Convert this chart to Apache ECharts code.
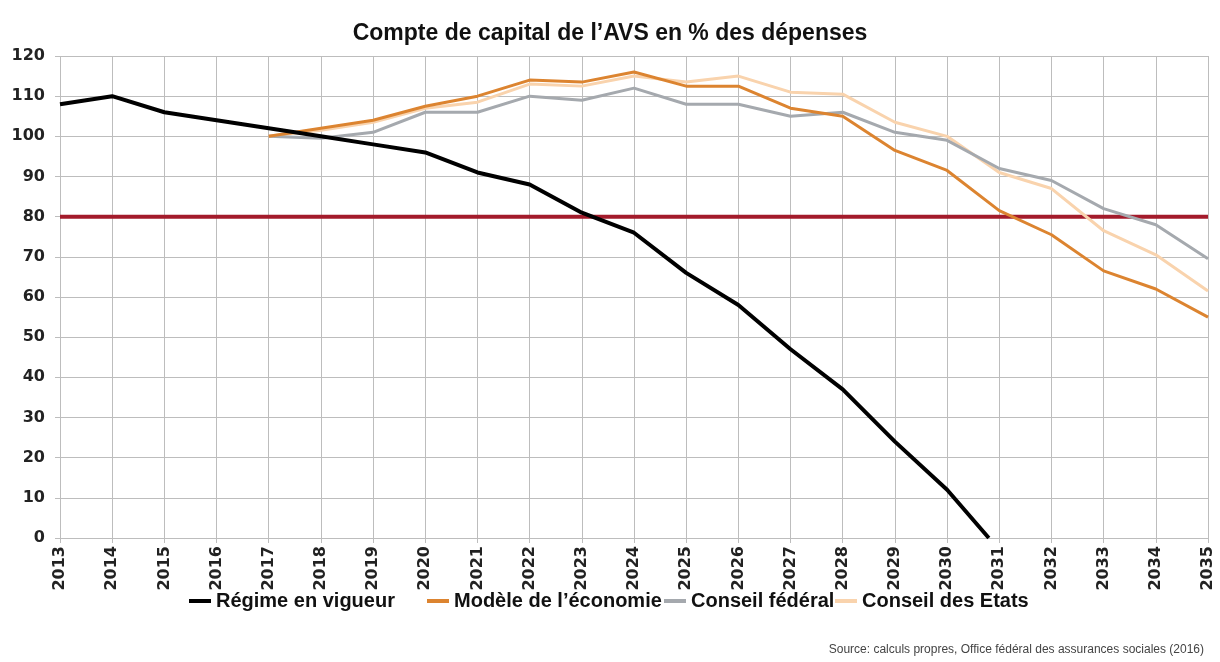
<!DOCTYPE html>
<html>
<head>
<meta charset="utf-8">
<title>Compte de capital de l'AVS</title>
<script src="https://cdn.jsdelivr.net/npm/echarts@6/dist/echarts.min.js"></script>
<style>
    html, body { margin: 0; padding: 0; background: #fff; }
    #chart { width: 1220px; height: 662px; }
</style>
</head>
<body>
<div id="chart"></div>
<script>
// years shown on the x axis
const firstYear = 2013;
const lastYear = 2035;

// Régime en vigueur, 2013-2030, then the point where the fund hits zero
const regimeYears = [2013, 2014, 2015, 2016, 2017, 2018, 2019, 2020, 2021, 2022,
    2023, 2024, 2025, 2026, 2027, 2028, 2029, 2030, 2030.8];
const regime = [108, 110, 106, 104, 102, 100, 98, 96, 91, 88,
    81, 76, 66, 58, 47, 37, 24, 12, 0];

// the three reform scenarios, 2017-2035
const reformYears = [2017, 2018, 2019, 2020, 2021, 2022, 2023, 2024, 2025, 2026,
    2027, 2028, 2029, 2030, 2031, 2032, 2033, 2034, 2035];
const modele = [100, 102, 104, 107.5, 110, 114, 113.5, 116, 112.5, 112.5,
    107, 105, 96.5, 91.5, 81.5, 75.5, 66.5, 62, 55];
const federal = [100, 99.5, 101, 106, 106, 110, 109, 112, 108, 108,
    105, 106, 101, 99, 92, 89, 82, 78, 69.5];
const etats = [100, 101.5, 103.5, 107, 108.5, 113, 112.5, 115, 113.5, 115,
    111, 110.5, 103.5, 100, 91, 87, 76.5, 70.5, 61.5];

// 80 % threshold
const seuil = 80;

const names = ['Régime en vigueur', 'Modèle de l\u2019économie', 'Conseil fédéral', 'Conseil des Etats'];
const colors = ['#000000', '#dc8430', '#a5a9ae', '#f9d3ad'];

const pairs = (xs, ys) => xs.map((x, i) => [x, ys[i]]);

const chart = echarts.init(document.getElementById('chart'));

const legendFont = {
    fontFamily: 'Liberation Sans, Arial, sans-serif',
    fontWeight: 'bold',
    fontSize: 20,
    color: '#111'
};
// one small legend per entry, the gaps in the original are uneven
const legendLeft = [184, 422, 659, 830];

const option = {
    animation: false,
    backgroundColor: '#fff',
    title: [{
        text: 'Compte de capital de l\u2019AVS en % des dépenses',
        left: 'center',
        top: 17,
        textStyle: {
            fontFamily: 'Liberation Sans, Arial, sans-serif',
            fontWeight: 'bold',
            fontSize: 23,
            color: '#111'
        }
    }, {
        text: 'Source: calculs propres, Office fédéral des assurances sociales (2016)',
        right: 11,
        top: 639,
        textStyle: {
            fontFamily: 'Liberation Sans, Arial, sans-serif',
            fontWeight: 'normal',
            fontSize: 12,
            color: '#444'
        }
    }],
    legend: names.map((n, i) => ({
        data: [n],
        left: legendLeft[i],
        top: 586,
        icon: 'rect',
        itemWidth: 22,
        itemHeight: 4,
        itemGap: 0,
        textStyle: legendFont
    })),
    grid: {
        left: 60,
        right: 12,
        top: 56,
        bottom: 124
    },
    xAxis: {
        type: 'value',
        min: firstYear,
        max: lastYear,
        interval: 1,
        axisLine: { show: false },
        axisTick: { show: true, length: 5, lineStyle: { color: '#bdbdbd' } },
        splitLine: { show: true, lineStyle: { color: '#bdbdbd', width: 1 } },
        axisLabel: {
            rotate: 90,
            margin: 8,
            formatter: v => String(v),
            fontFamily: 'DejaVu Sans, sans-serif',
            fontWeight: 'bold',
            fontSize: 16,
            color: '#222'
        }
    },
    yAxis: {
        type: 'value',
        min: 0,
        max: 120,
        interval: 10,
        axisLine: { show: false },
        axisTick: { show: true, length: 5, lineStyle: { color: '#bdbdbd' } },
        splitLine: { show: true, lineStyle: { color: '#bdbdbd', width: 1 } },
        axisLabel: {
            margin: 15,
            fontFamily: 'DejaVu Sans, sans-serif',
            fontWeight: 'bold',
            fontSize: 16,
            color: '#222'
        }
    },
    series: [
        {
            name: 'Seuil',
            type: 'line',
            silent: true,
            showSymbol: false,
            z: 1,
            lineStyle: { color: '#a31b2b', width: 4 },
            data: [[firstYear, seuil], [lastYear, seuil]]
        },
        {
            name: names[3],
            type: 'line',
            showSymbol: false,
            z: 2,
            color: colors[3],
            lineStyle: { color: colors[3], width: 3 },
            data: pairs(reformYears, etats)
        },
        {
            name: names[2],
            type: 'line',
            showSymbol: false,
            z: 3,
            color: colors[2],
            lineStyle: { color: colors[2], width: 3 },
            data: pairs(reformYears, federal)
        },
        {
            name: names[1],
            type: 'line',
            showSymbol: false,
            z: 4,
            color: colors[1],
            lineStyle: { color: colors[1], width: 3 },
            data: pairs(reformYears, modele)
        },
        {
            name: names[0],
            type: 'line',
            showSymbol: false,
            z: 5,
            color: colors[0],
            lineStyle: { color: colors[0], width: 4 },
            data: pairs(regimeYears, regime)
        }
    ]
};

chart.setOption(option);
</script>
</body>
</html>
